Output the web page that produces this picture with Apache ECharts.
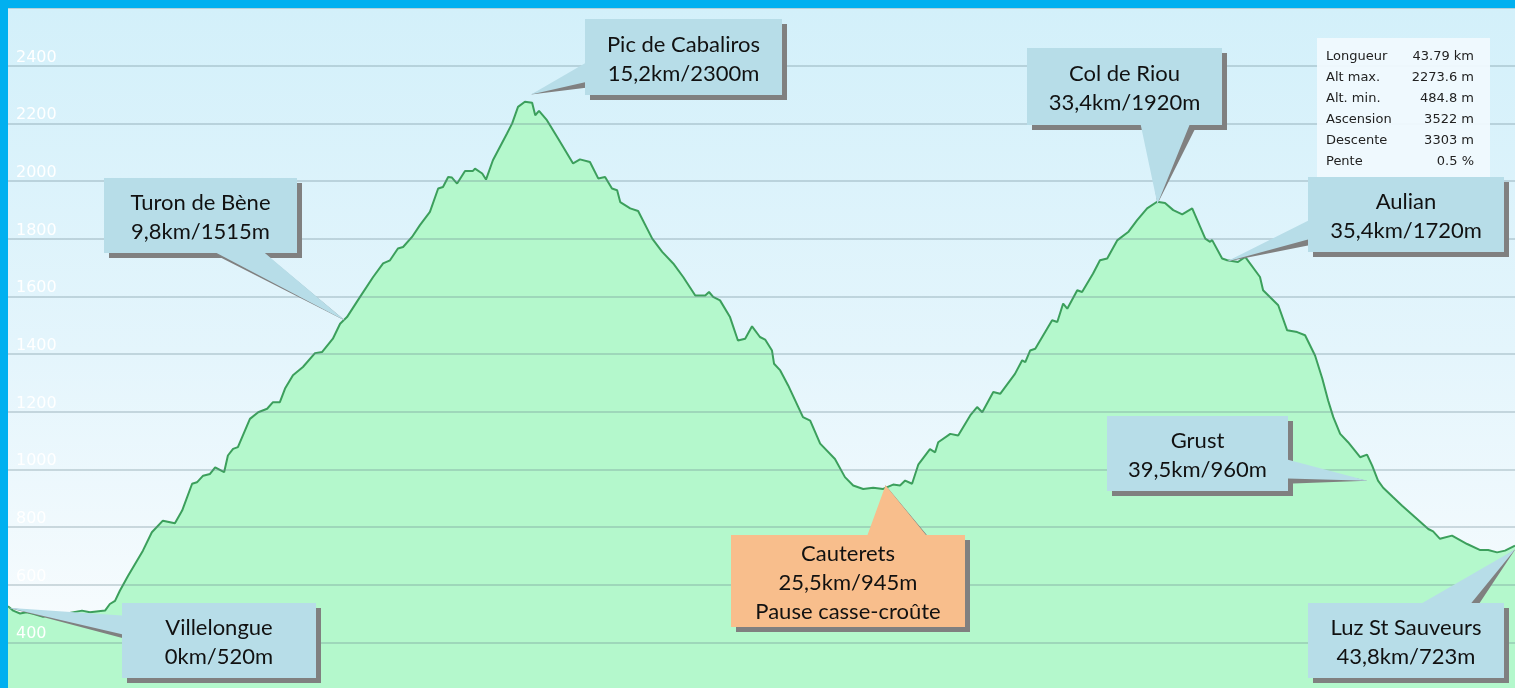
<!DOCTYPE html>
<html>
<head>
<meta charset="utf-8">
<script src="https://cdn.jsdelivr.net/npm/echarts@6/dist/echarts.min.js"></script>
<style>
html,body{margin:0;padding:0;overflow:hidden;background:#00b0f0;}
#main{position:absolute;left:8px;top:8px;width:1507px;height:692px;
	background:linear-gradient(to bottom,#d3f0fa 0%,#e4f5fc 50%,#f8fcfe 92%);}
</style>
</head>
<body>
<div id="main"></div>
<script>
// profil : distance (km) / altitude (m)
var distKm = [
	0,0.15,0.35,0.54,0.73,1.02,1.31,1.71,2.15,2.38,
	2.82,2.96,3.11,3.25,3.49,3.92,4.18,4.50,4.85,5.06,
	5.35,5.49,5.67,5.87,6.02,6.28,6.39,6.54,6.68,7.03,
	7.27,7.53,7.70,7.90,8.05,8.28,8.57,8.92,9.13,9.44,
	9.65,9.85,10.23,10.61,10.90,11.10,11.33,11.48,11.74,11.97,
	12.26,12.50,12.64,12.79,12.90,13.05,13.28,13.51,13.57,13.78,
	13.89,14.09,14.50,14.65,14.82,15.02,15.23,15.32,15.43,15.66,
	15.98,16.42,16.62,16.91,17.15,17.35,17.55,17.70,17.79,18.08,
	18.31,18.72,19.01,19.33,19.62,19.97,20.26,20.37,20.49,20.69,
	20.98,21.21,21.42,21.62,21.85,22.00,22.20,22.26,22.44,22.67,
	23.10,23.31,23.60,24.03,24.32,24.56,24.85,25.14,25.43,25.72,
	25.92,26.07,26.27,26.45,26.79,26.94,27.03,27.38,27.61,27.96,
	28.16,28.31,28.63,28.83,29.26,29.47,29.56,29.70,29.85,30.34,
	30.49,30.66,30.78,31.07,31.21,31.53,31.73,31.94,32.23,32.55,
	32.81,33.10,33.39,33.62,33.86,34.12,34.41,34.79,34.93,34.99,
	35.28,35.43,35.74,35.95,36.38,36.47,36.91,37.17,37.46,37.69,
	37.98,38.19,38.36,38.51,38.71,38.94,39.29,39.49,39.64,39.81,
	39.96,40.25,40.51,40.83,41.27,41.41,41.61,41.96,42.40,42.78,
	43.01,43.27,43.50,43.79
];
var elevM = [
	525,510,500,504,499,489,499,500,510,504,
	510,533,544,579,631,718,782,822,813,857,
	950,955,978,984,1007,990,1048,1071,1077,1175,
	1198,1210,1233,1233,1280,1326,1355,1403,1407,1453,
	1505,1528,1598,1667,1714,1725,1766,1771,1806,1847,
	1893,1974,1979,2014,2012,1991,2035,2035,2043,2026,
	2005,2072,2165,2200,2257,2275,2271,2228,2243,2211,
	2148,2061,2075,2066,2009,2014,1974,1968,1927,1905,
	1896,1800,1754,1714,1667,1603,1603,1615,1598,1586,
	1528,1447,1453,1496,1459,1450,1412,1366,1343,1291,
	1181,1169,1089,1036,973,944,932,936,932,947,
	944,961,950,1016,1070,1059,1094,1123,1117,1187,
	1216,1198,1268,1262,1331,1378,1372,1412,1418,1517,
	1511,1575,1557,1621,1615,1679,1725,1731,1794,1823,
	1864,1905,1928,1924,1899,1884,1905,1800,1789,1795,
	1731,1725,1719,1737,1667,1621,1569,1482,1476,1465,
	1395,1315,1239,1181,1123,1094,1042,1051,1013,961,
	936,903,874,840,793,785,759,770,741,720,
	720,712,718,735
];

// points de passage
var placeNames = ["Villelongue","Turon de Bène","Pic de Cabaliros","Cauterets","Col de Riou","Aulian","Grust","Luz St Sauveurs"];
var placeKm = [0, 9.8, 15.2, 25.5, 33.4, 35.4, 39.5, 43.8];
var placeAlt = [520, 1515, 2300, 945, 1920, 1720, 960, 723];
var placeNote = ["", "", "", "Pause casse-croûte", "", "", "", ""];

// tableau récapitulatif
var statLabels = ["Longueur","Alt max.","Alt. min.","Ascension","Descente","Pente"];
var statValues = ["43.79 km","2273.6 m","484.8 m","3522 m","3303 m","0.5 %"];

// bulles : x, y, largeur, hauteur (pixels de la page)
var boxes = [
	[122,603,194,75],[104,178,193,75],[585,19,197,76],[731,535,234,92],
	[1027,48,195,77],[1308,177,196,75],[1107,416,181,75],[1308,603,196,75]
];
var OFF = 8; // bordure bleue

var chart = echarts.init(document.getElementById('main'));

var option = {
	animation: false,
	grid: {left: 0, right: 0, top: 0, bottom: 0},
	xAxis: {type: 'value', min: 0, max: 43.79, show: false},
	yAxis: {
		type: 'value', min: 200, max: 2600, interval: 200, z: 3,
		axisLine: {show: false}, axisTick: {show: false},
		splitLine: {lineStyle: {color: 'rgba(100,130,140,0.28)', width: 2}},
		axisLabel: {
			inside: true, margin: 8, color: '#ffffff', fontSize: 16, fontFamily: 'DejaVu Sans',
			verticalAlign: 'bottom', showMaxLabel: false, showMinLabel: false,
			formatter: function(v){ return String(v); }
		}
	},
	series: [{
		type: 'line', symbol: 'none', silent: true, z: 2,
		data: distKm.map(function(d, i){ return [d, elevM[i]]; }),
		lineStyle: {color: '#3c9f5c', width: 2},
		areaStyle: {color: '#b4f8cc', opacity: 1}
	}]
};
chart.setOption(option);

//dessin des bulles
function calloutPoints(x, y, w, h, tip, dx, dy){
	var cx = x + w/2, cy = y + h/2;
	var rx = (tip[0]-cx)/w, ry = (tip[1]-cy)/h;
	var pts, f, t;
	var X = x+dx, Y = y+dy;
	if(Math.abs(ry) > Math.abs(rx)){
		t = (tip[0]-x)/w;
		f = t < 0.5 ? [2/12, 5/12] : [7/12, 10/12];
		if(ry < 0){
			pts = [[X,Y],[X+w*f[0],Y],tip,[X+w*f[1],Y],[X+w,Y],[X+w,Y+h],[X,Y+h]];
		}else{
			pts = [[X,Y],[X+w,Y],[X+w,Y+h],[X+w*f[1],Y+h],tip,[X+w*f[0],Y+h],[X,Y+h]];
		}
	}else{
		t = (tip[1]-y)/h;
		f = t < 0.5 ? [2/12, 5/12] : [7/12, 10/12];
		if(rx < 0){
			pts = [[X,Y],[X+w,Y],[X+w,Y+h],[X,Y+h],[X,Y+h*f[1]],tip,[X,Y+h*f[0]]];
		}else{
			pts = [[X,Y],[X+w,Y],[X+w,Y+h*f[0]],tip,[X+w,Y+h*f[1]],[X+w,Y+h],[X,Y+h]];
		}
	}
	return pts;
}

var graphics = [];
placeNames.forEach(function(name, i){
	var b = boxes[i];
	var x = b[0]-OFF, y = b[1]-OFF, w = b[2], h = b[3];
	var tip = chart.convertToPixel({gridIndex: 0}, [placeKm[i], placeAlt[i]]);
	var txt = name + "\n" + String(placeKm[i]).replace('.', ',') + "km/" + placeAlt[i] + "m";
	if(placeNote[i]) txt += "\n" + placeNote[i];
	graphics.push({type: 'polygon', z: 100, silent: true,
		shape: {points: calloutPoints(x, y, w, h, tip, 5, 5)}, style: {fill: '#808080'}});
	graphics.push({type: 'polygon', z: 101, silent: true,
		shape: {points: calloutPoints(x, y, w, h, tip, 0, 0)},
		style: {fill: placeNote[i] ? '#f8be8c' : '#b7dde8'}});
	graphics.push({type: 'text', z: 102, silent: true,
		style: {text: txt, x: x + w/2, y: y + h/2 + 2, align: 'center', verticalAlign: 'middle',
			fontSize: 22, fontFamily: 'Lato', lineHeight: 29, fill: '#111111'}});
});

// tableau
graphics.push({type: 'rect', z: 100, silent: true,
	shape: {x: 1317-OFF, y: 38-OFF, width: 173, height: 139},
	style: {fill: 'rgba(241,250,254,0.92)'}});
statLabels.forEach(function(lab, i){
	var yy = 57 + i*21 - OFF;
	graphics.push({type: 'text', z: 101, silent: true,
		style: {text: lab, x: 1326-OFF, y: yy, align: 'left', verticalAlign: 'middle',
			fontSize: 13, fontFamily: 'DejaVu Sans', fill: '#222222'}});
	graphics.push({type: 'text', z: 101, silent: true,
		style: {text: statValues[i], x: 1474-OFF, y: yy, align: 'right', verticalAlign: 'middle',
			fontSize: 13, fontFamily: 'DejaVu Sans', fill: '#222222'}});
});

chart.setOption({graphic: graphics});
</script>
</body>
</html>
